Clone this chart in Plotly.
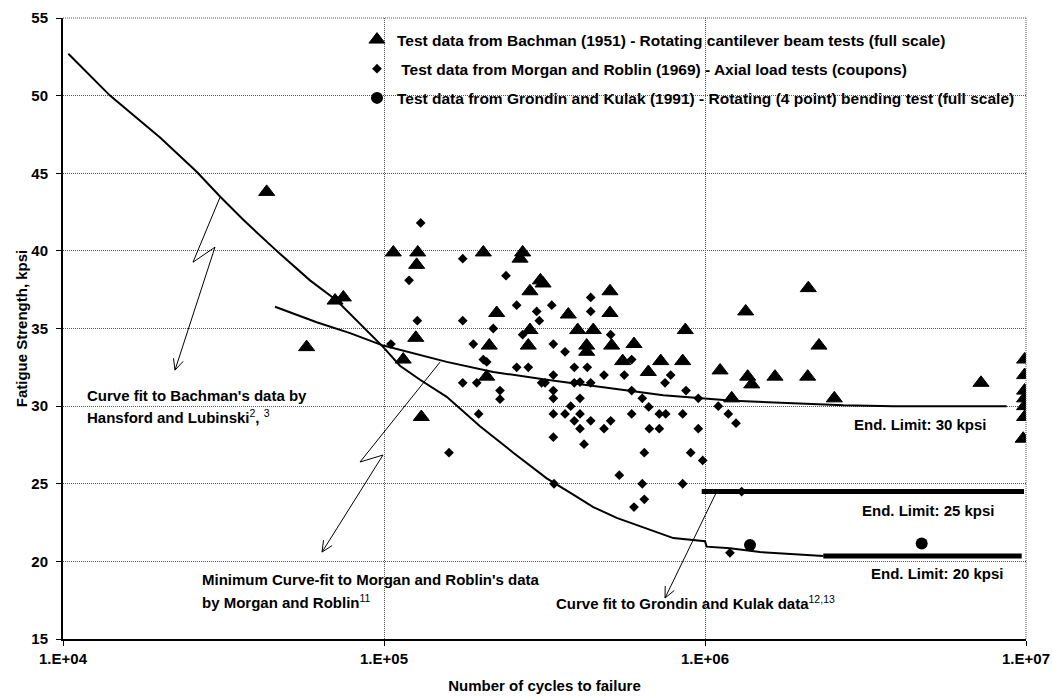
import math
import plotly.graph_objects as go

# ---------------- data ----------------
bachman_cycles = [43100, 70400, 74700, 57400, 106900, 127400, 126400, 203900, 270400, 265300,
                  307000, 313000, 284900, 505800, 224400, 375100, 505800, 284900, 401200, 448700,
                  868200, 125600, 212800, 281500, 428000, 428000, 512000, 600800, 554000, 727800,
                  852100, 114800, 208900, 666000, 1114000, 130700, 2098000, 1339000, 2265000, 1358000,
                  1398000, 1652000, 2089000, 7240000, 1211000, 2528000, 9900000, 9900000, 9900000, 9900000,
                  9900000, 9900000, 9800000]
bachman_strength = [43.8, 36.8, 37.0, 33.8, 39.9, 39.9, 39.1, 39.9, 39.9, 39.5,
                    38.1, 37.9, 37.4, 37.4, 36.0, 35.9, 36.0, 34.9, 34.9, 34.9,
                    34.9, 34.4, 33.9, 33.9, 33.9, 33.5, 33.9, 34.0, 32.9, 32.9,
                    32.9, 33.0, 31.9, 32.2, 32.3, 29.3, 37.6, 36.1, 33.9, 31.9,
                    31.4, 31.9, 31.9, 31.5, 30.5, 30.5, 33.0, 32.0, 31.0, 30.5,
                    30.0, 29.3, 27.9]

morgan_cycles = [130100, 175900, 119700, 239900, 259000, 440500, 333100, 299000, 304700, 440500,
                 127000, 175900, 219000, 270400, 105100, 189800, 336900, 366400, 508400, 203900,
                 208900, 259000, 281500, 391600, 429800, 591000, 336900, 484600, 560500, 781800,
                 175900, 194500, 309900, 317500, 391600, 407900, 440500, 750600, 229800, 229800,
                 336900, 336900, 407900, 591000, 637700, 872600, 953000, 381600, 667800, 1100000,
                 197200, 336900, 366400, 407900, 591000, 720500, 754400, 852100, 1182000, 391600,
                 440500, 508400, 407900, 484600, 670700, 720500, 953000, 336900, 419900, 159400,
                 647000, 902600, 983600, 540800, 338600, 637700, 852100, 647000, 600800, 1301000,
                 1196000, 1249000]
morgan_strength = [41.8, 39.5, 38.1, 38.4, 36.5, 37.0, 36.5, 36.1, 35.5, 36.1,
                   35.5, 35.5, 35.0, 34.6, 34.0, 34.0, 34.0, 33.5, 34.6, 33.0,
                   32.85, 32.5, 32.5, 32.5, 32.5, 33.0, 32.0, 32.0, 32.0, 32.0,
                   31.5, 31.5, 31.5, 31.5, 31.5, 31.55, 31.5, 31.5, 31.0, 30.45,
                   31.0, 30.5, 30.5, 31.0, 30.5, 31.0, 30.5, 30.0, 29.95, 30.0,
                   29.5, 29.5, 29.5, 29.5, 29.5, 29.5, 29.5, 29.5, 29.5, 29.05,
                   29.05, 29.05, 28.55, 28.55, 28.55, 28.55, 28.55, 28.0, 27.55, 27.0,
                   27.0, 27.0, 26.5, 25.55, 25.0, 25.0, 25.0, 24.0, 23.5, 24.5,
                   20.55, 28.9]

grondin_cycles = [1381000, 4732000]
grondin_strength = [21.05, 21.15]

# Hansford & Lubinski curve fit to Bachman's data
hl_fit_cycles = [10390, 14010, 20060, 26090, 30840, 36450, 46320, 58830, 71230, 88330,
                 99500, 112100, 129500, 156800, 199100, 252800, 321300, 388800, 448700, 530800,
                 658100, 796800, 1000000, 1012000, 1196000, 1483000, 2336000]
hl_fit_strength = [52.7, 50.0, 47.3, 45.1, 43.5, 42.0, 40.0, 38.1, 36.8, 34.9,
                   33.8, 32.6, 31.7, 30.6, 28.7, 27.0, 25.35, 24.3, 23.5, 22.8,
                   22.1, 21.5, 21.3, 20.95, 20.85, 20.6, 20.35]
hl_endlimit_cycles = [2336000, 9697000]
hl_endlimit_strength = [20.35, 20.35]

# Morgan & Roblin minimum curve fit
mr_fit_cycles = [45760, 61710, 78380, 99500, 156800, 219000, 321300, 518000, 741600, 1225000,
                 1977000, 2697000, 3860000, 8709000]
mr_fit_strength = [36.4, 35.4, 34.7, 33.9, 32.85, 32.2, 31.7, 31.15, 30.7, 30.35,
                   30.15, 30.05, 30.0, 30.0]

# Grondin & Kulak curve fit
gk_fit_cycles = [976600, 9858000]
gk_fit_strength = [24.5, 24.5]

x_tick_values = [1e4, 1e5, 1e6, 1e7]
x_tick_labels = ["1.E+04", "1.E+05", "1.E+06", "1.E+07"]
y_tick_values = [15, 20, 25, 30, 35, 40, 45, 50, 55]

legend_names = [
    "Test data from Bachman (1951) - Rotating cantilever beam tests (full scale)",
    "\u00a0Test data from Morgan and Roblin (1969) - Axial load tests (coupons)",
    "Test data from Grondin and Kulak (1991) - Rotating (4 point) bending test (full scale)",
]

# ---------------- layout geometry ----------------
W, H = 1052, 696
M_L, M_R, M_T, M_B = 63, 26, 18, 57
X_RANGE = [4, 7]
Y_RANGE = [15, 55]
PW = W - M_L - M_R
PH = H - M_T - M_B

FONT = "Liberation Sans, Arial, sans-serif"


def to_px(n, s):
    px = M_L + (math.log10(n) - X_RANGE[0]) / (X_RANGE[1] - X_RANGE[0]) * PW
    py = M_T + (Y_RANGE[1] - s) / (Y_RANGE[1] - Y_RANGE[0]) * PH
    return px, py


def to_data(px, py):
    n = 10 ** (X_RANGE[0] + (px - M_L) / PW * (X_RANGE[1] - X_RANGE[0]))
    s = Y_RANGE[1] - (py - M_T) / PH * (Y_RANGE[1] - Y_RANGE[0])
    return n, s


# leader lines (annotation pointers), in data units: (cycles, strength)
leader_bachman = [(30840, 43.45), (25410, 39.27), (29750, 40.24), (22330, 32.32)]
leader_morgan = [(149400, 32.83), (84190, 26.4), (99290, 26.85), (64120, 20.6)]
leader_grondin = [(1082000, 24.4), (750600, 17.64)]

fig = go.Figure()

BLACK = "#000000"

# curves
fig.add_trace(go.Scatter(x=hl_fit_cycles, y=hl_fit_strength, mode="lines",
                         line=dict(color=BLACK, width=2), showlegend=False, hoverinfo="skip"))
fig.add_trace(go.Scatter(x=hl_endlimit_cycles, y=hl_endlimit_strength, mode="lines",
                         line=dict(color=BLACK, width=5), showlegend=False, hoverinfo="skip"))
fig.add_trace(go.Scatter(x=mr_fit_cycles, y=mr_fit_strength, mode="lines",
                         line=dict(color=BLACK, width=2), showlegend=False, hoverinfo="skip"))
fig.add_trace(go.Scatter(x=gk_fit_cycles, y=gk_fit_strength, mode="lines",
                         line=dict(color=BLACK, width=5), showlegend=False, hoverinfo="skip"))


def add_leader(points):
    xs = [p[0] for p in points]
    ys = [p[1] for p in points]
    # open V arrowhead at the last point
    tx, ty = to_px(*points[-1])
    bx, by = to_px(*points[-2])
    dx, dy = bx - tx, by - ty
    d = math.hypot(dx, dy)
    ux, uy = dx / d, dy / d
    L = 12
    for ang in (math.radians(25), math.radians(-25)):
        rx = ux * math.cos(ang) - uy * math.sin(ang)
        ry = ux * math.sin(ang) + uy * math.cos(ang)
        an, as_ = to_data(tx + rx * L, ty + ry * L)
        xs += [None, points[-1][0], an]
        ys += [None, points[-1][1], as_]
    fig.add_trace(go.Scatter(x=xs, y=ys, mode="lines", line=dict(color=BLACK, width=1),
                             showlegend=False, hoverinfo="skip"))


add_leader(leader_bachman)
add_leader(leader_morgan)
add_leader(leader_grondin)

# data points
fig.add_trace(go.Scatter(x=bachman_cycles, y=bachman_strength, mode="markers", name=legend_names[0],
                         marker=dict(symbol="triangle-up", size=14, color=BLACK,
                                     line=dict(color=BLACK, width=1)),
                         legendgroup="a", legendrank=1))
fig.add_trace(go.Scatter(x=morgan_cycles, y=morgan_strength, mode="markers", name=legend_names[1],
                         marker=dict(symbol="diamond", size=7.5, color=BLACK),
                         legendgroup="b", legendrank=2))
fig.add_trace(go.Scatter(x=grondin_cycles, y=grondin_strength, mode="markers", name=legend_names[2],
                         marker=dict(symbol="circle", size=12, color=BLACK),
                         legendgroup="c", legendrank=3))

NORMAL = '<span style="font-weight:normal">'
annots = [
    (4.067, 30.70, "Curve fit to Bachman's data by", "left"),
    (4.067, 29.32, "Hansford and Lubinski<sup>" + NORMAL + "2</span></sup>, <sup>" + NORMAL + "3</span></sup>", "left"),
    (4.426, 18.86, "Minimum Curve-fit to Morgan and Roblin's data", "left"),
    (4.426, 17.44, "by Morgan and Roblin<sup>" + NORMAL + "11</span></sup>", "left"),
    (5.530, 17.32, "Curve fit to Grondin and Kulak data<sup>" + NORMAL + "12,13</span></sup>", "left"),
    (6.670, 28.84, "End. Limit: 30 kpsi", "center"),
    (6.695, 23.30, "End. Limit: 25 kpsi", "center"),
    (6.723, 19.25, "End. Limit: 20 kpsi", "center"),
]
for ax_, ay_, txt, anchor in annots:
    fig.add_annotation(x=ax_, y=ay_, xref="x", yref="y", text=txt, showarrow=False,
                       xanchor=anchor, yanchor="middle",
                       font=dict(family=FONT, size=15, color=BLACK, weight="bold"))

# dotted frame at top and right (grid lines at the range ends)
fig.add_shape(type="line", xref="paper", yref="paper", x0=0, x1=1, y0=1, y1=1,
              line=dict(color="#555555", width=1, dash="1px,1px"))
fig.add_shape(type="line", xref="paper", yref="paper", x0=1, x1=1, y0=0, y1=1,
              line=dict(color="#555555", width=1, dash="1px,1px"))

axis_common = dict(
    automargin=False,
    showline=True, linecolor=BLACK, linewidth=2,
    ticks="outside", ticklen=5, tickcolor=BLACK, tickwidth=1,
    showgrid=True, gridcolor="#555555", gridwidth=1, griddash="1px,1px",
    zeroline=False,
    tickfont=dict(family=FONT, size=15, color=BLACK, weight="bold"),
)

fig.update_layout(
    template="none",
    width=W, height=H, autosize=False,
    margin=dict(l=M_L, r=M_R, t=M_T, b=M_B, pad=0, autoexpand=False),
    paper_bgcolor="white", plot_bgcolor="white",
    font=dict(family=FONT, size=15, color=BLACK),
    xaxis=dict(type="log", range=X_RANGE, tickvals=x_tick_values, ticktext=x_tick_labels,
               title=dict(text="Number of cycles to failure", standoff=14,
                          font=dict(family=FONT, size=15, color=BLACK, weight="bold")),
               **axis_common),
    yaxis=dict(range=Y_RANGE, tickvals=y_tick_values, ticklabelstandoff=5,
               title=dict(text="Fatigue Strength, kpsi", standoff=0,
                          font=dict(family=FONT, size=15, color=BLACK, weight="bold")),
               **axis_common),
    legend=dict(x=(357 - M_L) / PW, y=1 - (23 - M_T) / PH, xanchor="left", yanchor="top",
                bgcolor="rgba(0,0,0,0)", borderwidth=0, tracegroupgap=6,
                traceorder="grouped",
                font=dict(family=FONT, size=15.5, color=BLACK, weight="bold")),
    showlegend=True,
)

fig.write_html("out.html",
               post_script="document.body.style.margin='0px';document.body.style.padding='0px';"
                           "document.documentElement.style.overflow='hidden';")
